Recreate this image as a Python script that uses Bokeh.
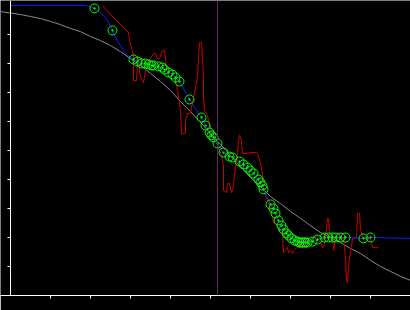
from bokeh.plotting import figure
from bokeh.models import Range1d, FixedTicker, Span, CustomJSTickFormatter
from bokeh.embed import file_html
from bokeh.resources import INLINE

# ---- data ----
fit_x = [-2.5, 0, 2.5, 5, 7.5, 10, 12.5, 15, 17.5, 20, 22.5, 25, 27.5, 30, 32.5, 35, 37.5,
         40, 42.5, 45, 47.5, 50, 52.5, 55, 57.5, 60, 62.5, 65, 67.5, 70, 72.5, 75, 77.5,
         80, 82.5, 85, 87.5, 90, 92.5, 95, 97.5, 100]
fit_y = [0.979, 0.974, 0.969, 0.962, 0.955, 0.945, 0.934, 0.921, 0.910, 0.893, 0.879, 0.862,
         0.841, 0.817, 0.793, 0.766, 0.738, 0.707, 0.669, 0.634, 0.597, 0.559, 0.521, 0.483,
         0.445, 0.407, 0.376, 0.341, 0.317, 0.290, 0.266, 0.241, 0.217, 0.200, 0.183, 0.162,
         0.145, 0.121, 0.100, 0.083, 0.066, 0.052]

raw_x = [23.0, 25.0, 27.0, 28.75, 29.5, 29.75, 30.25, 30.75, 30.75, 31.5, 31.75, 32.25, 32.25,
         32.75, 33.25, 33.75, 34.25, 35.0, 35.75, 36.25, 36.75, 37.25, 38.0, 38.5, 38.75, 39.25,
         40.0, 40.75, 41.25, 41.75, 42.5, 42.75, 43.75, 43.75, 44.25, 45.0, 45.75, 46.25, 46.75,
         47.0, 47.25, 47.75, 48.0, 48.25, 48.25, 48.5, 49.25, 49.5, 50.0, 50.75, 51.5, 52.0,
         52.75, 53.25, 53.25, 54.0, 54.25, 54.75, 55.25, 55.75, 56.0, 56.5, 56.75, 57.0, 57.25,
         57.75, 58.0, 59.25, 60.0, 61.25, 61.75, 62.5, 63.0, 63.25, 63.75, 64.5, 65.0, 65.5,
         65.75, 66.75, 67.0, 68.0, 68.25, 68.75, 69.25, 69.5, 70.0, 70.5, 70.75, 71.25, 71.75,
         74.25, 75.0, 75.5, 76.75, 77.0, 77.5, 78.0, 78.25, 78.5, 78.75, 79.25, 79.5, 79.75,
         80.0, 80.5, 80.75, 81.0, 81.25, 83.25, 83.5, 83.75, 84.0, 84.25, 84.5, 84.75, 85.25,
         85.5, 86.5, 86.75, 87.25, 87.5, 88.0, 90.0, 90.5, 92.0]
raw_y = [1.000, 0.969, 0.941, 0.917, 0.907, 0.879, 0.855, 0.828, 0.741, 0.741, 0.803, 0.793,
         0.766, 0.748, 0.734, 0.776, 0.803, 0.817, 0.834, 0.834, 0.817, 0.817, 0.845, 0.845,
         0.810, 0.776, 0.769, 0.759, 0.748, 0.707, 0.638, 0.559, 0.559, 0.603, 0.628, 0.628,
         0.683, 0.714, 0.752, 0.821, 0.872, 0.872, 0.821, 0.752, 0.683, 0.638, 0.621, 0.603,
         0.579, 0.552, 0.534, 0.510, 0.483, 0.448, 0.362, 0.355, 0.386, 0.386, 0.355, 0.379,
         0.424, 0.455, 0.493, 0.534, 0.552, 0.534, 0.490, 0.490, 0.493, 0.493, 0.490, 0.455,
         0.421, 0.379, 0.345, 0.317, 0.300, 0.269, 0.252, 0.241, 0.224, 0.214, 0.148, 0.155,
         0.166, 0.148, 0.155, 0.145, 0.155, 0.162, 0.166, 0.166, 0.190, 0.200, 0.207, 0.190,
         0.183, 0.166, 0.166, 0.183, 0.197, 0.266, 0.266, 0.224, 0.200, 0.200, 0.155, 0.172,
         0.200, 0.197, 0.166, 0.131, 0.052, 0.045, 0.097, 0.131, 0.166, 0.197, 0.200, 0.283,
         0.283, 0.231, 0.200, 0.197, 0.166, 0.166]

smooth_x = [0, 18.25, 20, 21, 22.5, 24.25, 25.5, 26.25, 27.5, 28.75, 30.75, 32.75, 35.25, 37,
            38.5, 40.5, 42.25, 44.75, 47.75, 49.75, 51.75, 53.25, 55.5, 58.25, 60.75, 63.25,
            65, 67, 69, 71, 73.25, 75.5, 78.5, 83.75, 88.25, 90, 100]
smooth_y = [1.0, 1.0, 0.997, 0.990, 0.976, 0.948, 0.914, 0.890, 0.862, 0.834, 0.814, 0.800,
            0.793, 0.790, 0.779, 0.762, 0.738, 0.676, 0.614, 0.562, 0.524, 0.493, 0.476, 0.452,
            0.421, 0.366, 0.314, 0.259, 0.214, 0.190, 0.183, 0.186, 0.200, 0.200, 0.197, 0.200,
            0.197]

pts_x = [21.0, 25.5, 30.75, 31.75, 32.75, 33.75, 34.5, 35.25, 35.75, 37.0, 38.0, 38.5, 39.5,
         40.5, 41.25, 42.25, 44.75, 47.75, 48.75, 49.75, 50.25, 50.75, 51.75, 53.25, 54.75,
         55.5, 57.25, 58.25, 59.25, 60.0, 60.75, 62.0, 62.5, 63.0, 63.25, 65.0, 65.75, 66.25,
         67.0, 67.75, 68.25, 69.0, 69.5, 70.25, 71.0, 71.75, 72.25, 72.75, 73.25, 73.75, 74.25,
         75.5, 76.75, 78.5, 79.5, 80.5, 81.25, 82.5, 83.75, 88.25, 90.0]
pts_y = [0.990, 0.914, 0.814, 0.807, 0.800, 0.800, 0.797, 0.793, 0.793, 0.790, 0.786, 0.779,
         0.769, 0.762, 0.752, 0.738, 0.676, 0.614, 0.586, 0.562, 0.552, 0.545, 0.524, 0.493,
         0.479, 0.476, 0.462, 0.452, 0.441, 0.431, 0.421, 0.400, 0.390, 0.379, 0.366, 0.314,
         0.300, 0.283, 0.259, 0.241, 0.228, 0.214, 0.207, 0.197, 0.190, 0.186, 0.183, 0.183,
         0.183, 0.183, 0.183, 0.186, 0.193, 0.200, 0.200, 0.200, 0.200, 0.200, 0.200, 0.197,
         0.200]

ref_x = 51.75
x_ticks = [10, 20, 30, 40, 50, 60, 70, 80, 90]
y_ticks = [0.1, 0.2, 0.3, 0.4, 0.5, 0.6, 0.7, 0.8, 0.9]

# ---- figure ----
p = figure(width=410, height=310, output_backend="svg", toolbar_location=None,
           x_range=Range1d(-2.5, 100), y_range=Range1d(0, 1.01724),
           min_border_left=0, min_border_right=0, min_border_top=0, min_border_bottom=15)
p.background_fill_color = "black"
p.border_fill_color = "black"
p.outline_line_color = None
p.grid.visible = False

for ax in (p.xaxis, p.yaxis):
    ax.axis_line_color = "white"
    ax.axis_line_width = 1
    ax.major_tick_line_color = "white"
    ax.major_tick_out = 3
    ax.major_tick_in = 0
    ax.minor_tick_line_color = None
    ax.major_label_text_font_size = "8px"
    ax.major_label_standoff = 0
    ax.formatter = CustomJSTickFormatter(code="return ''")
p.xaxis.ticker = FixedTicker(ticks=x_ticks)
p.yaxis.ticker = FixedTicker(ticks=y_ticks)
p.yaxis.fixed_location = 0

p.line(fit_x, fit_y, line_color="#8c8c8c", line_width=1)
p.add_layout(Span(location=ref_x, dimension="height", line_color="#5e2a5e", line_width=1))
p.line(raw_x, raw_y, line_color="#cc0000", line_width=1)
p.line(smooth_x, smooth_y, line_color="#1a1aff", line_width=1)
p.scatter(pts_x, pts_y, marker="circle_dot", size=9, fill_color=None,
          line_color="#00ff00", line_width=1)

open("out.html", "w").write(file_html(p, INLINE))
